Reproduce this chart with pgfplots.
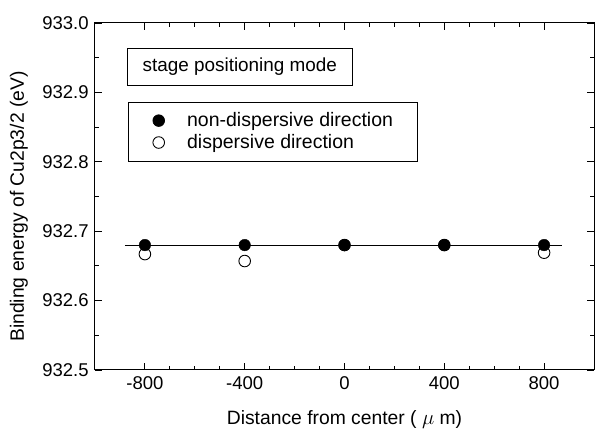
\documentclass[border=0pt]{standalone}
\usepackage{fontspec}
\setmainfont{Liberation Sans}
\usepackage{pgfplots}
\pgfplotsset{compat=1.18}
\pgfplotsset{mylegimg/.style={legend image code/.code={\path (0pt,0pt) (54pt,0pt); \draw[##1] plot coordinates {(28pt,0pt)};}}}
\begin{document}
\fontsize{18.5}{22}\selectfont
\begin{tikzpicture}
\begin{axis}[
  scale only axis, width=499pt, height=347pt,
  xmin=-1000, xmax=1000, ymin=932.5, ymax=933.0,
  xtick={-800,-400,0,400,800}, minor x tick num=3,
  ytick={932.5,932.6,932.7,932.8,932.9,933.0}, minor y tick num=1,
  tick align=inside, major tick length=7pt, minor tick length=4pt,
  axis line style={line width=1pt}, every tick/.style={line width=0.9pt, black},
  /pgf/number format/assume math mode=true,
  yticklabel style={/pgf/number format/.cd, fixed, fixed zerofill, precision=1, 1000 sep={}},
  xticklabel style={/pgf/number format/.cd, fixed, 1000 sep={}},
  xlabel={Distance from center ( $\mu$ m)},
  xlabel style={yshift=-9pt, font=\fontsize{19.3}{22}\selectfont},
  ylabel={Binding energy of Cu2p3/2 (eV)},
  ylabel style={yshift=2pt, xshift=-10pt, font=\fontsize{19.3}{22}\selectfont},
  reverse legend,
  legend cell align=left,
  legend style={at={(rel axis cs:0.066,0.773)}, anchor=north west, draw=black, line width=0.8pt,
    inner xsep=2pt, inner ysep=8pt, row sep=1pt, font=\fontsize{19.5}{22}\selectfont},
]
\addplot[black, line width=1pt, forget plot] coordinates {(-880,932.68) (870,932.68)};
\addplot[only marks, mark=*, mark size=5.8pt, mark options={fill=white, draw=black, line width=0.9pt}, mylegimg]
  coordinates {(-800,932.667) (-400,932.657) (0,932.68) (400,932.68) (800,932.669)};
\addlegendentry{dispersive direction}
\addplot[only marks, mark=*, mark size=5.8pt, mark options={fill=black, draw=black}, mylegimg]
  coordinates {(-800,932.68) (-400,932.68) (0,932.68) (400,932.68) (800,932.68)};
\addlegendentry{non-dispersive direction\kern20pt}
\node[draw, line width=0.8pt, anchor=north west, inner xsep=9pt, minimum height=37pt, minimum width=225pt, font=\fontsize{18.9}{22}\selectfont]
  at (rel axis cs:0.064,0.928) {stage positioning mode};
\end{axis}
\path ([shift={(-95pt,-57pt)}]current axis.south west) rectangle ([shift={(1pt,23pt)}]current axis.north east);
\end{tikzpicture}
\end{document}
